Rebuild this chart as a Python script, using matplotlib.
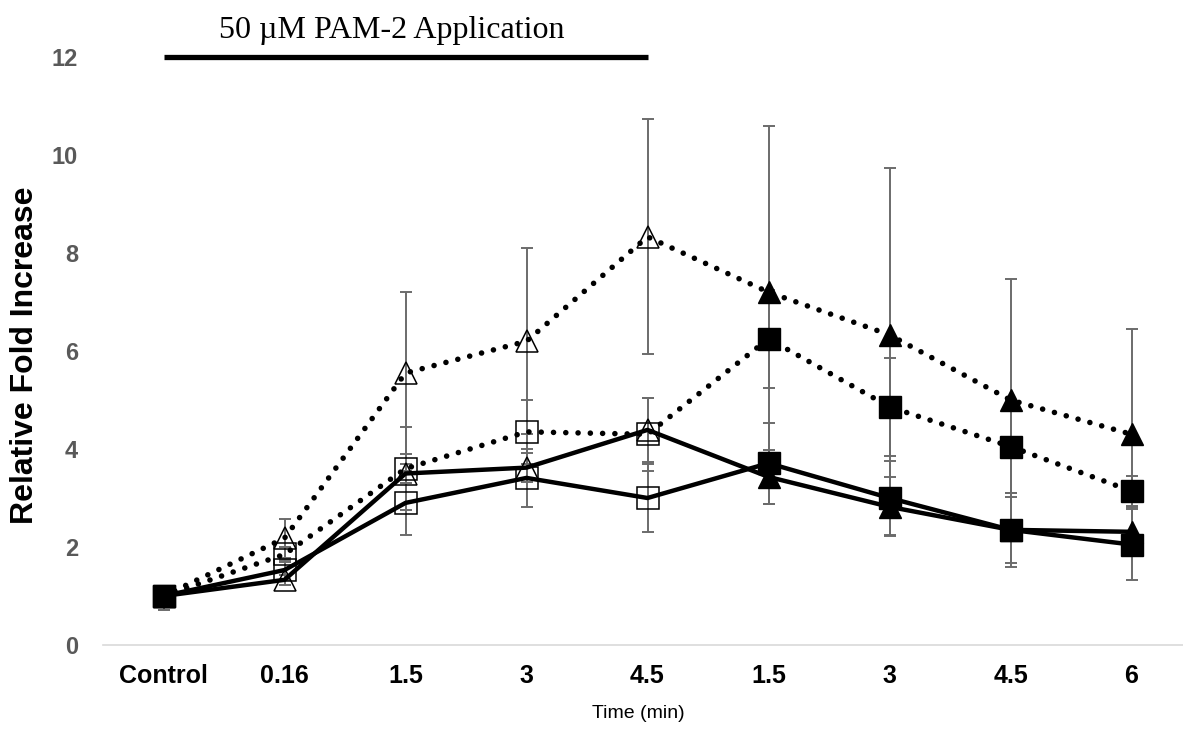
import numpy as np
import matplotlib.pyplot as plt

# category labels on the x axis
time_labels = ["Control", "0.16", "1.5", "3", "4.5", "1.5", "3", "4.5", "6"]

# dotted series (triangle / square)
dot_tri = [1.0, 2.18, 5.55, 6.2, 8.33, 7.2, 6.33, 5.0, 4.3]
dot_tri_err = [0.0, 0.4, 1.65, 1.9, 2.4, 3.4, 3.4, 2.47, 2.14]
dot_sq = [1.0, 1.85, 3.6, 4.35, 4.3, 6.25, 4.86, 4.05, 3.14]
dot_sq_err = [0.0, 0.15, 0.85, 0.65, 0.75, 1.0, 1.0, 0.95, 0.3]

# solid series (triangle / square)
sol_tri = [1.0, 1.33, 3.5, 3.62, 4.39, 3.43, 2.82, 2.35, 2.31]
sol_tri_err = [0.0, 0.1, 0.2, 0.3, 0.65, 0.55, 0.6, 0.75, 0.5]
sol_sq = [1.0, 1.53, 2.9, 3.41, 3.0, 3.71, 3.0, 2.35, 2.05]
sol_sq_err_lo = [0.29, 0.2, 0.65, 0.6, 0.7, 0.83, 0.75, 0.68, 0.72]
sol_sq_err_hi = [0.0, 0.2, 0.65, 0.6, 0.7, 0.83, 0.75, 0.68, 0.72]

open_idx = [1, 2, 3, 4]          # during application -> open markers
filled_idx = [0, 5, 6, 7, 8]

x = np.arange(len(time_labels))

fig = plt.figure(figsize=(11.83, 7.29), dpi=100)
ax = fig.add_axes([103 / 1183, 84 / 729, 1089 / 1183, 588 / 729])

err_color = "#6b6b6b"
dotted = (0, (0.01, 2.2))
series = [
    (dot_tri, [dot_tri_err, dot_tri_err], "^", dotted),
    (dot_sq, [dot_sq_err, dot_sq_err], "s", dotted),
    (sol_tri, [sol_tri_err, sol_tri_err], "^", "-"),
    (sol_sq, [sol_sq_err_lo, sol_sq_err_hi], "s", "-"),
]

for vals, errs, mk, ls in series:
    vals = np.array(vals)
    ax.errorbar(x, vals, yerr=errs, fmt="none", ecolor=err_color,
                elinewidth=1.4, capsize=4, capthick=1.4, zorder=1)
    if ls == "-":
        ax.plot(x, vals, color="black", lw=3.2, ls="-", zorder=2)
    else:
        ax.plot(x, vals, color="black", lw=4.0, ls=ls,
                dash_capstyle="round", zorder=2)
    ax.plot(x[open_idx], vals[open_idx], ls="none", marker=mk, ms=16,
            mfc="none", mec="black", mew=1.1, zorder=3)
    ax.plot(x[filled_idx], vals[filled_idx], ls="none", marker=mk, ms=16,
            mfc="black", mec="black", zorder=3)

ax.set_xlim(-0.5, 8.5)
ax.set_ylim(0, 12)
ax.set_yticks(range(0, 13, 2))
ax.set_xticks(x)
ax.set_xticklabels(time_labels, fontsize=18, fontweight="bold",
                   family="Liberation Sans", color="black")
for lab in ax.get_yticklabels():
    lab.set_fontsize(17)
    lab.set_fontweight("bold")
    lab.set_family("Liberation Sans")
    lab.set_color("#595959")
ax.tick_params(axis="both", length=0)
ax.tick_params(axis="x", pad=14)
ax.tick_params(axis="y", pad=18)

for s in ["top", "right", "left"]:
    ax.spines[s].set_visible(False)
ax.spines["bottom"].set_color("#d9d9d9")
ax.spines["bottom"].set_linewidth(1.2)

# application bar
ax.plot([0, 4], [12, 12], color="black", lw=3.8, clip_on=False,
        solid_capstyle="butt")
ax.text(1.89, 12.55, "50 \u00b5M PAM-2 Application", ha="center", va="center",
        fontsize=23, family="Liberation Serif", clip_on=False)

fig.text(25 / 1183, 1 - 355 / 729, "Relative Fold Increase", rotation=90,
         ha="center", va="center", fontsize=23, fontweight="bold",
         family="Liberation Sans")
fig.text(638 / 1183, 1 - 714 / 729, "Time (min)", ha="center", va="center",
         fontsize=14, family="Liberation Sans")

plt.savefig("out.png", dpi=100)
